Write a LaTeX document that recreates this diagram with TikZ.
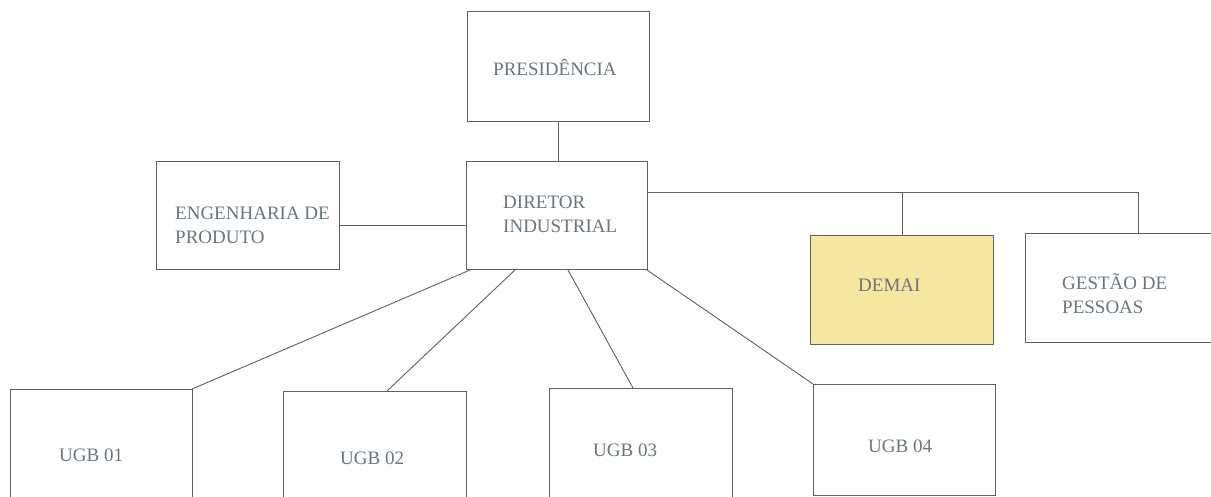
\documentclass[tikz,border=0pt]{standalone}
\usepackage{fontspec}
\setmainfont{Liberation Serif}
\definecolor{linec}{RGB}{95,95,95}
\definecolor{txtc}{RGB}{105,118,126}
\definecolor{demaic}{RGB}{245,230,160}
\begin{document}
\begin{tikzpicture}[x=1pt,y=-1pt,
  box/.style={draw=linec, line width=1pt, inner sep=0pt, outer sep=0pt},
  openbox/.style={draw=none, inner sep=0pt, outer sep=0pt},
  lbl/.style={text=txtc, font=\fontsize{19}{23.5}\selectfont, inner sep=0pt, anchor=west, align=left},
  conn/.style={draw=linec, line width=0.9pt}]
\useasboundingbox (0,0) rectangle (1211,497);
% boxes
\node[box, minimum width=182pt, minimum height=110pt] (pres) at (558,67) {};
\node[box, minimum width=181pt, minimum height=108pt] (dir) at (556.5,216) {};
\node[box, minimum width=183pt, minimum height=108pt] (eng) at (247.5,216) {};
\node[box, fill=demaic, minimum width=183pt, minimum height=108pt] (demai) at (902,290) {};
\node[openbox, minimum width=186pt, minimum height=109pt] (gest) at (1118,287.5) {};
\node[openbox, minimum width=182pt, minimum height=108pt] (ugb1) at (101,443) {};
\node[openbox, minimum width=183pt, minimum height=106pt] (ugb2) at (374.5,444) {};
\node[openbox, minimum width=183pt, minimum height=109pt] (ugb3) at (640.5,442.5) {};
\node[box, minimum width=182pt, minimum height=111pt] (ugb4) at (904,439.5) {};
% open-sided boxes (cut by the picture edge)
\draw[conn] (gest.north east) -- (gest.north west) -- (gest.south west) -- (gest.south east);
\draw[conn] (ugb1.south west) -- (ugb1.north west) -- (ugb1.north east) -- (ugb1.south east);
\draw[conn] (ugb2.south west) -- (ugb2.north west) -- (ugb2.north east) -- (ugb2.south east);
\draw[conn] (ugb3.south west) -- (ugb3.north west) -- (ugb3.north east) -- (ugb3.south east);
% labels
\node[lbl] (tpres) at (493,67) {PRESIDÊNCIA};
\node[lbl] (tdir) at (503,214.5) {DIRETOR\\INDUSTRIAL};
\node[lbl] (teng) at (175,225.5) {ENGENHARIA DE\\PRODUTO};
\node[lbl] (tdemai) at (858,285) {DEMAI};
\node[lbl] (tgest) at (1062,293.5) {GESTÃO DE\\PESSOAS};
\node[lbl] (tu1) at (59,455.5) {UGB 01};
\node[lbl] (tu2) at (340,458) {UGB 02};
\node[lbl] (tu3) at (593,450) {UGB 03};
\node[lbl] (tu4) at (868,446) {UGB 04};
% connectors
\coordinate (jg) at (1138,192);
\draw[conn] (pres.south) -- (pres.south |- dir.north);
\draw[conn] ([yshift=-9pt]eng.east) -- ([yshift=-9pt]eng.east -| dir.west);
\draw[conn] (dir.east |- jg) -- (jg) -- (jg |- gest.north);
\draw[conn] (demai.north |- jg) -- (demai.north);
\draw[conn] ([xshift=4pt]dir.south west) -- (ugb1.north east);
\draw[conn] ([xshift=-41.5pt]dir.south) -- ([xshift=12.5pt]ugb2.north);
\draw[conn] ([xshift=11.5pt]dir.south) -- ([xshift=-7.5pt]ugb3.north);
\draw[conn] (dir.south east) -- (ugb4.north west);
\end{tikzpicture}
\end{document}
